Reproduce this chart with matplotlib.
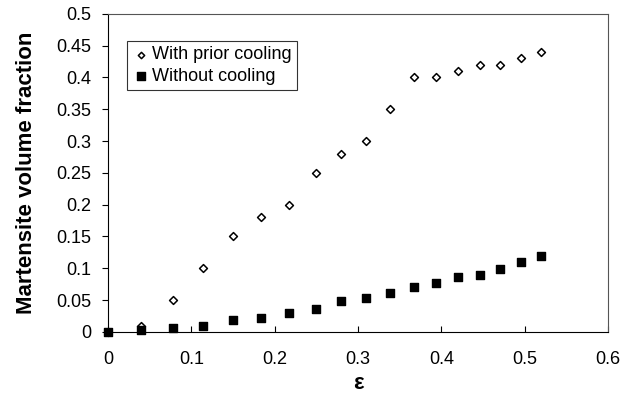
import numpy as np
import matplotlib.pyplot as plt

plt.rcParams['font.family'] = ['Liberation Sans', 'DejaVu Sans']

# strain values
strain = [0, 0.04, 0.078, 0.114, 0.150, 0.184, 0.217, 0.250, 0.280, 0.309,
          0.338, 0.367, 0.394, 0.420, 0.446, 0.471, 0.496, 0.520]
# martensite fraction, with prior cooling
with_cooling = [0, 0.01, 0.05, 0.10, 0.15, 0.18, 0.20, 0.25, 0.28, 0.30,
                0.35, 0.40, 0.40, 0.41, 0.42, 0.42, 0.43, 0.44]
# martensite fraction, without cooling
without_cooling = [0, 0.003, 0.006, 0.009, 0.019, 0.022, 0.030, 0.036, 0.049, 0.053,
                   0.061, 0.071, 0.077, 0.087, 0.089, 0.099, 0.110, 0.120]

fig = plt.figure(figsize=(6.21, 3.97), dpi=100)
ax = fig.add_axes([0.174, 0.164, 0.805, 0.801])

ax.scatter(strain, with_cooling, marker='D', s=16, facecolor='white',
           edgecolor='black', linewidths=1.1, label='With prior cooling',
           zorder=2, clip_on=False)
ax.scatter(strain, without_cooling, marker='s', s=40, color='black',
           label='Without cooling', zorder=3, clip_on=False)

ax.set_xlim(0, 0.6)
ax.set_ylim(0, 0.5)
ax.set_xticks(np.arange(0, 0.61, 0.1))
ax.set_xticklabels(['0', '0.1', '0.2', '0.3', '0.4', '0.5', '0.6'])
ax.set_yticks(np.arange(0, 0.501, 0.05))
ax.set_yticklabels(['0', '0.05', '0.1', '0.15', '0.2', '0.25', '0.3', '0.35',
                    '0.4', '0.45', '0.5'])
ax.tick_params(axis='x', direction='in', length=4, labelsize=13, pad=14)
ax.tick_params(axis='y', direction='out', length=4, labelsize=13, pad=8)

for side in ['top', 'right']:
    ax.spines[side].set_color('#555555')
ax.spines['left'].set_color('black')
ax.spines['bottom'].set_color('black')

ax.set_xlabel('ε', fontsize=16, fontweight='bold', labelpad=3)
ax.set_ylabel('Martensite volume fraction', fontsize=16, fontweight='bold', labelpad=14)

leg = ax.legend(loc='upper left', bbox_to_anchor=(0.038, 0.915), fontsize=13,
                frameon=True, fancybox=False, edgecolor='black', handletextpad=0.1,
                borderpad=0.3, labelspacing=0.25, handlelength=1.0, borderaxespad=0,
                markerscale=0.8)
leg.get_frame().set_linewidth(0.8)

plt.savefig('out.png', dpi=100)
